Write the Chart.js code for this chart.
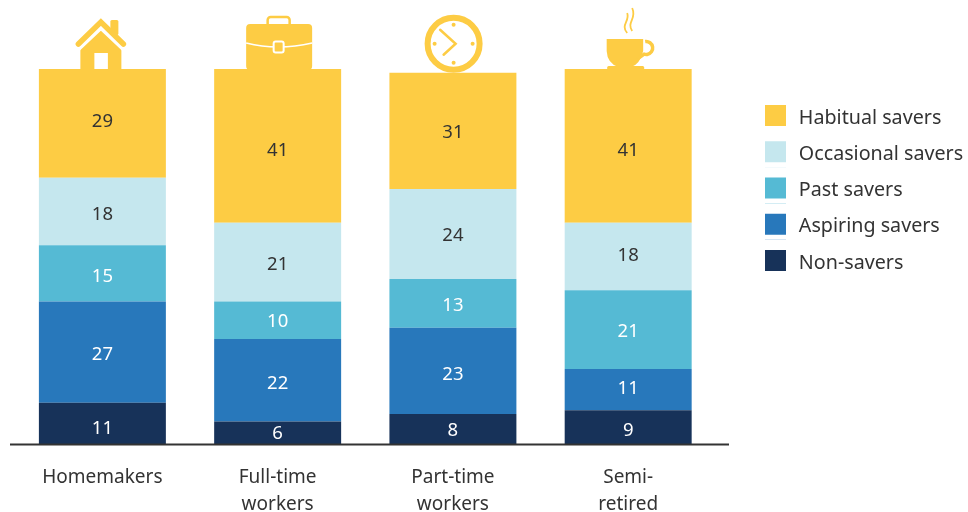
<!DOCTYPE html>
<html><head><meta charset="utf-8">
<style>html,body{margin:0;padding:0;background:#fff}#w{width:968px;height:512px}</style>
<script src="https://cdn.jsdelivr.net/npm/chart.js@4"></script>
</head><body><div id="w"><canvas id="c"></canvas></div>
<script>
const categories = [["Homemakers"],["Full-time","workers"],["Part-time","workers"],["Semi-","retired"]];
const nonSavers = [11,6,8,9];
const aspiringSavers = [27,22,23,11];
const pastSavers = [15,10,13,21];
const occasionalSavers = [18,21,24,18];
const habitualSavers = [29,41,31,41];
const YEL='#FDCC44', PALE='#C5E7EE', PAST='#55BAD4', ASP='#2878BB', NON='#173259', TXT='#333333';
const FONT='"Noto Sans"';
// small vertical adjustment of each value label relative to its segment's centre
const labelNudge=[[4.9,.5,2,3.9],[2.2,3,3.4,-1.3],[3.6,1.8,2.6,2.4],[2.8,2.2,1.3,-.5],[-1.4,4.4,1.4,5.1]];
function ds(label,data,color,lab){return {label,data,backgroundColor:color,labelColor:lab,borderWidth:0,barPercentage:0.7245,categoryPercentage:1};}

const icons=[
 function home(c,x,y){ // y = bar top, x = bar centre
  c.fillStyle=YEL;c.beginPath();c.moveTo(x-22,y);c.lineTo(x-22,y-21);c.lineTo(x-1.5,y-40);c.lineTo(x+19,y-21);c.lineTo(x+19,y);c.closePath();c.fill();
  c.fillStyle='#fff';c.fillRect(x-8,y-16,13.5,16);
  c.fillStyle=YEL;c.beginPath();c.roundRect(x+8,y-49,8,15,1.5);c.fill();
  c.strokeStyle='#fff';c.lineWidth=7;c.lineJoin='miter';c.beginPath();c.moveTo(x-27,y-19);c.lineTo(x-1.5,y-43);c.lineTo(x+24,y-19);c.stroke();
  c.strokeStyle=YEL;c.lineWidth=5.5;c.lineCap='round';c.beginPath();c.moveTo(x-24,y-25);c.lineTo(x-1.5,y-47);c.lineTo(x+21,y-25);c.stroke();c.lineCap='butt';
 },
 function briefcase(c,x,y){
  c.strokeStyle=YEL;c.lineWidth=2.5;c.beginPath();c.roundRect(x-10,y-52,22,10,3);c.stroke();
  c.fillStyle=YEL;c.beginPath();c.roundRect(x-31.5,y-45,66,46,4);c.fill();
  c.strokeStyle='#fff';c.lineWidth=1.5;c.beginPath();c.moveTo(x-31.5,y-26);c.quadraticCurveTo(x,y-18,x+34.5,y-26);c.stroke();
  c.fillStyle=YEL;c.lineWidth=2;c.beginPath();c.roundRect(x-4,y-27.5,10,11,2);c.fill();c.stroke();
 },
 function clock(c,x,y){
  const cx=x+.7,cy=y-29;
  c.strokeStyle=YEL;c.lineWidth=6;c.beginPath();c.arc(cx,cy,26,0,Math.PI*2);c.stroke();
  c.fillStyle=YEL;[[0,-19],[19,0],[0,19],[-19,0]].forEach(p=>{c.beginPath();c.arc(cx+p[0],cy+p[1],2,0,Math.PI*2);c.fill();});
  c.lineWidth=2.5;c.lineCap='round';c.beginPath();c.moveTo(cx-13.5,cy-14);c.lineTo(cx+2,cy);c.lineTo(cx-10,cy+11);c.stroke();c.lineCap='butt';
 },
 function cup(c,x,y){
  c.fillStyle=YEL;c.beginPath();c.moveTo(x-21.5,y-30);c.lineTo(x+15,y-30);c.lineTo(x+15,y-18);c.quadraticCurveTo(x+12,y-5,x+3,y-2);c.lineTo(x-10,y-2);c.quadraticCurveTo(x-21,y-6,x-21.5,y-18);c.closePath();c.fill();
  c.strokeStyle=YEL;c.lineWidth=3.5;c.beginPath();c.arc(x+18,y-21,6.5,-Math.PI*.55,Math.PI*.6);c.lineTo(x+9,y-10);c.stroke();
  c.beginPath();c.roundRect(x-21,y-3,37,4,1.5);c.fill();
  c.lineWidth=1.8;
  c.beginPath();c.moveTo(x-1,y-36);c.bezierCurveTo(x-8,y-44,x+2,y-48,x-1,y-56);c.stroke();
  c.beginPath();c.moveTo(x+4,y-38);c.bezierCurveTo(x-2,y-47,x+9,y-50,x+4,y-61);c.stroke();
 }
];

const LEG_PAD=10.25;
const overlay={id:'overlay',
 afterLayout(ch){ const l=ch.legend; const w=l.width,h=l.height; l.left=765-LEG_PAD; l.right=l.left+w; l.top=105-LEG_PAD; l.bottom=l.top+h; },
 afterDatasetsDraw(ch){
  const c=ch.ctx; c.save();
  c.font='18.5px '+FONT; c.textAlign='center'; c.textBaseline='middle';
  ch.data.datasets.forEach((d,di)=>{ ch.getDatasetMeta(di).data.forEach((b,i)=>{
    c.fillStyle=d.labelColor; c.fillText(String(d.data[i]),b.x,(b.y+b.base)/2+labelNudge[di][i]);
  });});
  const top=ch.getDatasetMeta(ch.data.datasets.length-1).data;
  top.forEach((b,i)=>{ c.save(); icons[i](c,b.x,b.y); c.restore(); });
  const y0=ch.scales.y.getPixelForValue(0);
  c.strokeStyle='#333'; c.lineWidth=2; c.beginPath(); c.moveTo(10,y0+.5); c.lineTo(729,y0+.5); c.stroke();
  // trim legend swatches to 21x21 so the text sits at the reference offset
  const l=ch.legend, sx=l.left+LEG_PAD; c.fillStyle='#fff';
  c.fillRect(sx+21,l.top,3,l.height);
  ch.data.datasets.forEach((d,i)=>c.fillRect(sx,l.top+LEG_PAD+i*36.25+21,24,5));
  c.restore();
 }};

new Chart(document.getElementById('c'),{
 type:'bar',
 data:{labels:categories,datasets:[
  ds('Non-savers',nonSavers,NON,'#FFFFFF'),
  ds('Aspiring savers',aspiringSavers,ASP,'#FFFFFF'),
  ds('Past savers',pastSavers,PAST,'#FFFFFF'),
  ds('Occasional savers',occasionalSavers,PALE,TXT),
  ds('Habitual savers',habitualSavers,YEL,TXT)
 ]},
 options:{responsive:true,maintainAspectRatio:false,animation:false,
  layout:{padding:{left:14.75,top:69,right:33.8,bottom:0}},
  scales:{
   x:{stacked:true,grid:{display:false},border:{display:false},
      afterFit(s){s.height=68;},
      ticks:{color:TXT,font:{family:FONT,size:19,lineHeight:1.42},padding:12,maxRotation:0,autoSkip:false}},
   y:{stacked:true,display:false,min:0,max:100}
  },
  plugins:{tooltip:{enabled:false},
   legend:{position:'right',align:'start',reverse:true,
    labels:{boxWidth:24,boxHeight:26,padding:LEG_PAD,color:TXT,font:{family:FONT,size:19.7}}}}
 },
 plugins:[overlay]
});
</script></body></html>
